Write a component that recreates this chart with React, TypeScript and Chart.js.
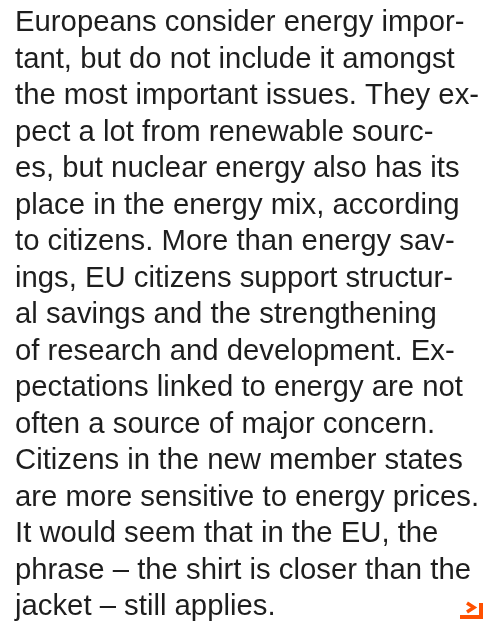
import React, { useEffect, useRef } from "react";
import { Chart, registerables } from "chart.js";

Chart.register(...registerables);

const textLines: string[] = [
  "Europeans consider energy impor-",
  "tant, but do not include it amongst",
  "the most important issues. They ex-",
  "pect a lot from renewable sourc-",
  "es, but nuclear energy also has its",
  "place in the energy mix, according",
  "to citizens. More than energy sav-",
  "ings, EU citizens support structur-",
  "al savings and the strengthening",
  "of research and development. Ex-",
  "pectations linked to energy are not",
  "often a source of major concern.",
  "Citizens in the new member states",
  "are more sensitive to energy prices.",
  "It would seem that in the EU, the",
  "phrase – the shirt is closer than the",
  "jacket – still applies.",
];

const categories: string[] = [];
const values: number[] = [];

export default function App() {
  const ref = useRef<HTMLCanvasElement | null>(null);
  useEffect(() => {
    if (!ref.current) return;
    const chart = new Chart(ref.current, {
      type: "bar",
      data: {
        labels: categories,
        datasets: [{ data: values, backgroundColor: "#ff5000" }],
      },
      options: {
        responsive: false,
        animation: false,
        layout: { padding: { left: 15, top: 0, right: 0, bottom: 0 } },
        plugins: {
          legend: { display: false },
          tooltip: { enabled: false },
          title: {
            display: true,
            text: textLines,
            align: "start",
            color: "#1e1e1e",
            padding: { top: 5, bottom: 0 },
            font: {
              family: "'Liberation Sans', Arial, sans-serif",
              size: 29.3,
              weight: "normal",
              lineHeight: 36.5 / 29.3,
            },
          },
        },
        scales: {
          x: { display: false },
          y: { display: false },
        },
      },
    } as any);
    return () => chart.destroy();
  }, []);
  return (
    <div style={{ position: "absolute", left: 0, top: 0, width: 483, height: 624, background: "#fff" }}>
      <canvas ref={ref} width={483} height={624} style={{ display: "block" }} />
      <svg
        width={25}
        height={22}
        viewBox="0 0 25 22"
        style={{ position: "absolute", left: 458, top: 600 }}
      >
        <path d="M9 3 L16 7.5 L9 12" fill="none" stroke="#ff5000" strokeWidth={3.5} />
        <path d="M2 17 L23 17 L23 3" fill="none" stroke="#ff5000" strokeWidth={4} />
      </svg>
    </div>
  );
}
